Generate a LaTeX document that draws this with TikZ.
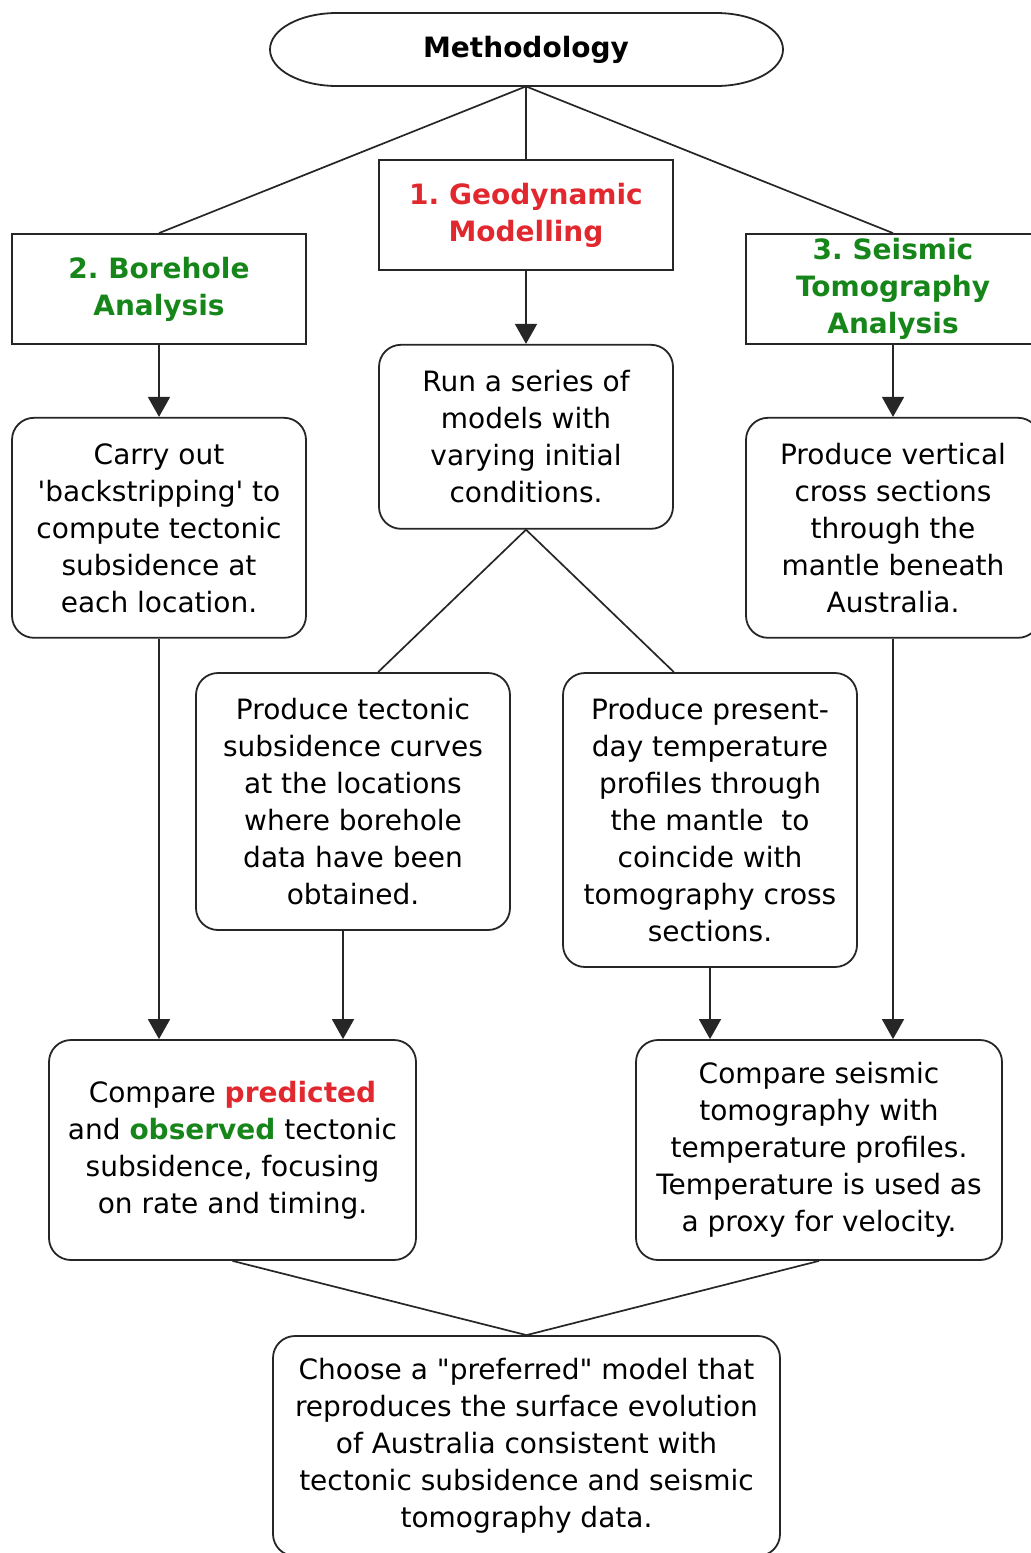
\documentclass[tikz,border=0pt]{standalone}
\usepackage{fontspec}
\setmainfont{DejaVu Sans}[Ligatures=TeXOff]
\usepackage{xcolor}
\usetikzlibrary{arrows.meta,positioning,calc}
\definecolor{geored}{HTML}{E0282E}
\definecolor{geogreen}{HTML}{17861A}
\frenchspacing

\begin{document}
\begin{tikzpicture}[
      x=0.5pt, y=-0.5pt,
      font=\fontsize{14}{18.5}\selectfont,
      >={Triangle[length=10pt,width=11pt]},
      box/.style={draw=black!85, line width=0.9pt, align=center, inner sep=0pt,
                  minimum width=147pt},
      title/.style={box, minimum height=55pt, font=\fontsize{14}{18.5}\selectfont\bfseries},
      stepbox/.style={box, rounded corners=11pt},
      link/.style={draw=black!85, line width=0.85pt},
      flow/.style={link, ->},
    ]
    \useasboundingbox (0,0) rectangle (1031,1553);

    % --- top: the methodology banner ------------------------------------------------
    \node[minimum width=256.5pt, minimum height=36.5pt, inner sep=0pt,
          font=\fontsize{14}{18.5}\selectfont\bfseries] (head) at (526,49.5) {Methodology};
    \draw[box] (337,13) -- (716,13) .. controls (753,13) and (783,29.3) .. (783,49.5)
      .. controls (783,69.7) and (753,86) .. (716,86) -- (337,86)
      .. controls (300,86) and (270,69.7) .. (270,49.5)
      .. controls (270,29.3) and (300,13) .. (337,13) -- cycle;

    % --- the three strands ----------------------------------------------------------
    \node[title, text=geored] (geo) at (526,215) {1. Geodynamic\\Modelling};
    \node[title, text=geogreen] (bore) at (159,289) {2. Borehole\\Analysis};
    \node[title, text=geogreen] (seis) at (893,289) {3. Seismic\\Tomography\\Analysis};

    \draw[link] (head.south) -- (bore.north);
    \draw[link] (head.south) -- (geo.north);
    \draw[link] (head.south) -- (seis.north);

    % --- first steps ----------------------------------------------------------------
    \node[stepbox, minimum height=92pt, below=36.5pt of geo] (run)
      {Run a series of\\models with\\varying initial\\conditions.};
    \node[stepbox, minimum height=110pt, below=36pt of bore] (carry)
      {Carry out\\'backstripping' to\\compute tectonic\\subsidence at\\each location.};
    \node[stepbox, minimum height=110pt, below=36pt of seis] (vert)
      {Produce vertical\\cross sections\\through the\\mantle beneath\\Australia.};

    \draw[flow] (geo) -- (run);
    \draw[flow] (bore) -- (carry);
    \draw[flow] (seis) -- (vert);

    % --- model outputs --------------------------------------------------------------
    \node[stepbox, minimum width=157pt, minimum height=128.5pt] (tect) at (353,801.5)
      {Produce tectonic\\subsidence curves\\at the locations\\where borehole\\data have been\\obtained.};
    \node[stepbox, minimum height=147pt] (pres) at (710,820)
      {Produce present-\\day temperature\\profiles through\\the mantle~ to\\coincide with\\tomography cross\\sections.};

    \draw[link] (run.south) -- (tect.north -| run.west);
    \draw[link] (run.south) -- (pres.north -| run.east);

    % --- comparisons ----------------------------------------------------------------
    \node[stepbox, minimum width=183.5pt, minimum height=110pt] (cmp1) at (232.5,1150)
      {Compare \textcolor{geored}{\bfseries predicted}\\and \textcolor{geogreen}{\bfseries observed} tectonic\\subsidence, focusing\\on rate and timing.};
    \node[stepbox, minimum width=183pt, minimum height=110pt] (cmp2) at (819,1150)
      {Compare seismic\\tomography with\\temperature profiles.\\Temperature is used as\\a proxy for velocity.};

    \draw[flow] (carry.south) -- (carry.south |- cmp1.north);
    \draw[flow] ([xshift=-5pt]tect.south) -- ([xshift=-5pt]tect.south |- cmp1.north);
    \draw[flow] (pres.south) -- (pres.south |- cmp2.north);
    \draw[flow] (vert.south) -- (vert.south |- cmp2.north);

    % --- outcome --------------------------------------------------------------------
    \node[stepbox, minimum width=253.5pt, minimum height=110pt] (final) at (526.5,1446)
      {Choose a "preferred" model that\\reproduces the surface evolution\\of Australia consistent with\\tectonic subsidence and seismic\\tomography data.};

    \draw[link] (cmp1.south) -- (final.north);
    \draw[link] (cmp2.south) -- (final.north);
  \end{tikzpicture}
\end{document}
